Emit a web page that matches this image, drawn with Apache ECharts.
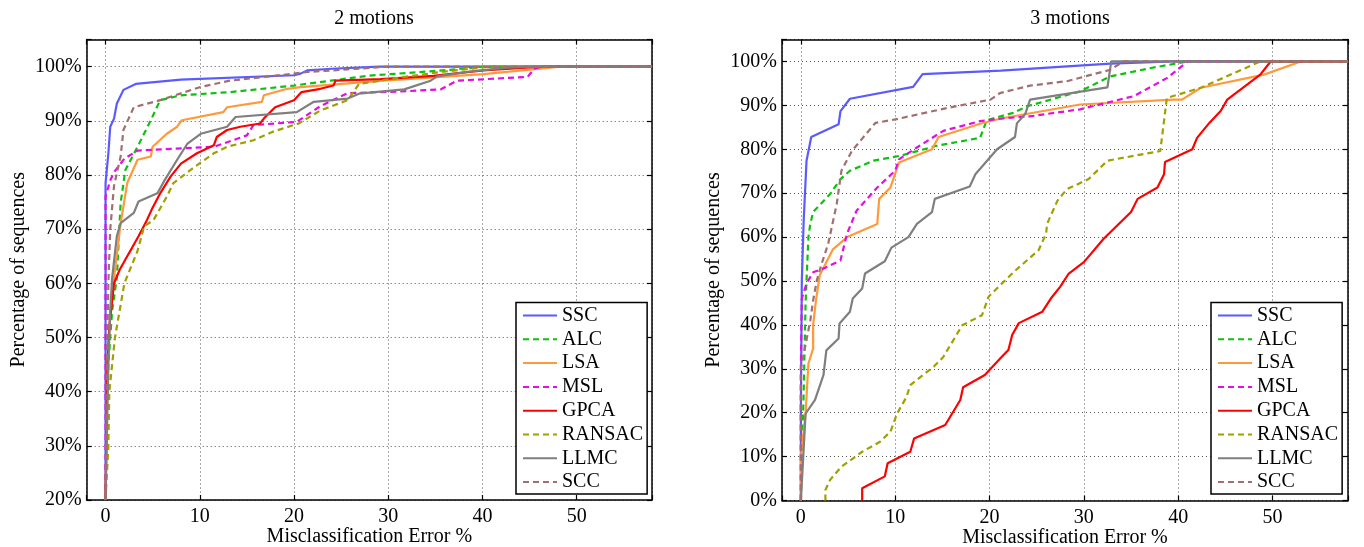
<!DOCTYPE html>
<html><head><meta charset="utf-8">
<script src="https://cdn.jsdelivr.net/npm/echarts@6/dist/echarts.min.js"></script>
<style>html,body{margin:0;padding:0;background:#fff}#c{width:1364px;height:547px}</style>
</head><body><div id="c"></div>
<script>
const methods = ['SSC','ALC','LSA','MSL','GPCA','RANSAC','LLMC','SCC'];
const titles = ['2 motions','3 motions'];
const xName = 'Misclassification Error %';
const yName = 'Percentage of sequences';

// ---- 2 motions: [error %, percentage of sequences] ----
const ssc2 = [[0,20],[0,78.5],[0.3,84],[0.5,88.9],[0.9,90.4],[1.2,93.2],[1.9,95.7],[3.2,96.8],[8,97.6],[20,98.4],[20.7,98.7],[21.4,99.3],[24,99.6],[29,100],[58,100]];
const alc2 = [[0,20],[0.3,45],[0.7,55],[1.2,61],[1.6,74.8],[2.1,80.9],[3.4,85.2],[4.8,90.1],[5.8,93.8],[8,94.7],[13.3,95.3],[20,96.5],[23.9,97.4],[27.8,98.3],[36.6,99.4],[40.4,100],[58,100]];
const lsa2 = [[0,20],[0.2,45],[0.5,55],[0.9,61],[1.6,71],[2.3,78.5],[3.4,82.8],[4.8,83.4],[5,85.2],[6.5,87.6],[7.6,88.9],[8.1,90.1],[12.5,91.6],[12.9,92.5],[16.6,93.5],[16.8,94.7],[19.3,95.9],[20.7,96.2],[29.5,97.4],[40.1,98.6],[48.3,100],[58,100]];
const msl2 = [[0,20],[0,76],[0.5,79],[0.9,80.5],[2,83],[3.4,84.5],[11.5,85.2],[15,87.3],[15.7,89.2],[20.3,89.8],[22.8,92.7],[25.7,95.1],[31.3,95.4],[35.6,95.8],[37.3,97.4],[44.8,98.1],[45.5,99.6],[46.2,100],[58,100]];
const gpca2 = [[0,20],[0.2,45],[0.4,52],[0.9,60],[1.5,62.5],[2.3,65],[2.8,66.5],[3.5,68.7],[4.4,71.7],[4.9,73.6],[5.8,76.6],[6.9,79.7],[8,82.1],[9.7,84],[11.5,85.5],[11.8,87],[12.9,88.3],[14.3,88.9],[16.4,89.5],[16.8,90.4],[18,92.5],[20,93.8],[20.8,95.3],[22.8,95.9],[24.2,96.5],[24.4,97.4],[29.2,97.7],[34.8,98.3],[40.1,99.3],[45.4,99.9],[47.5,100],[58,100]];
const ransac2 = [[0,20],[0.3,30],[0.4,40],[1,50],[2,60],[3.4,66],[4.1,70.5],[5.1,71.7],[6.5,76],[7.2,78.5],[9,80.9],[11.5,84],[12.9,85.2],[15.7,86.4],[17.8,88],[20.5,89.5],[22.8,91.9],[25.7,93.8],[26.9,96.8],[31.3,98],[35.6,99],[40.4,99.9],[42,100],[58,100]];
const llmc2 = [[0,20],[0.3,45],[0.5,55],[0.7,61],[1.2,68.7],[1.6,71.1],[3,73],[3.5,75.1],[5.5,76.6],[6.2,78.8],[7.6,82.8],[8.7,85.8],[10.1,87.6],[12.9,88.9],[13.8,90.7],[20.3,91.6],[22.1,93.5],[25.7,94.1],[26.9,95],[31.7,95.8],[34.5,97.4],[35.2,98.2],[38.3,99],[42.6,99.8],[45.4,100],[58,100]];
const scc2 = [[0,20],[0.1,40],[0.3,60],[0.5,70],[0.9,78],[1.6,83.4],[1.9,88.3],[3,92.5],[5.8,93.8],[10,96.2],[13.2,97.4],[20,98.7],[21.4,99],[25,99.4],[30,100],[58,100]];

// ---- 3 motions ----
const ssc3 = [[0,0],[0,20],[0.1,50],[0.3,63.8],[0.6,77.4],[1.1,82.8],[4,85.7],[4.2,88.7],[5.2,91.5],[11.9,94.2],[12.9,97.1],[21.2,97.9],[32.8,99.5],[39.5,100],[58,100]];
const alc3 = [[0,0],[0.3,25],[0.5,45],[0.6,50.2],[0.8,60],[1,63],[1.3,65.7],[3.1,69.8],[4.2,73.2],[5.2,75.1],[7.7,77.4],[10.5,78.5],[14.4,80.8],[19,82.6],[19.7,86.6],[22.5,88.3],[24,89.8],[29.6,93.2],[32.8,96.6],[37.1,98.5],[41,100],[58,100]];
const lsa3 = [[0,0],[0,10],[0.5,19.8],[0.8,31.2],[1.3,34.6],[1.3,40],[1.6,45.6],[2,51.3],[3.4,57.2],[4.9,60],[8.1,63],[8.3,68.7],[9.5,71.3],[10.4,77],[13.9,80],[14.6,82.8],[19,85.8],[21.2,87],[29.6,90.2],[39.5,91.3],[40.4,91.3],[42.4,94],[49.1,97],[53,100],[58,100]];
const msl3 = [[0,0],[0,30.5],[0.1,46],[0.6,49.4],[1.3,52],[2.6,53],[4.2,54.7],[4.9,60.8],[5.9,66],[8.1,71.3],[10,75.1],[10.4,77.7],[12.3,80.4],[15.1,84.2],[19,86.4],[21.2,87],[24.3,87.5],[29.6,89.1],[35.3,92.1],[38.8,96.2],[41,100],[58,100]];
const gpca3 = [[6.5,0],[6.5,2.8],[8.9,5.5],[9.2,8.5],[11.6,11.1],[12,14.1],[15.3,17.2],[16.9,22.9],[17.2,25.8],[19.5,28.6],[21.2,32.5],[22,34.3],[22.4,37.7],[23.1,40.4],[25.6,43],[26.5,46],[27.5,48.7],[28.4,51.7],[30,54.3],[32.1,59.6],[35,65.7],[35.7,68.7],[37.8,71.3],[38.5,74.3],[38.6,77.1],[41.5,80],[42,82.6],[43.3,86],[44.5,88.7],[45.2,91.3],[48.7,97],[49.8,100],[58,100]];
const ransac3 = [[2.6,0],[2.6,2.4],[3.1,4.7],[4.3,7.7],[6.5,11.1],[8.4,13.4],[9.5,15.7],[10.2,19.8],[11.2,23.6],[11.6,26.3],[14.1,30.5],[15.1,32.7],[17.1,39.9],[19.2,42.2],[19.9,46.4],[21.2,49.2],[22.8,52.5],[25.2,57],[26,60.8],[26.1,63],[27.2,68.3],[28.2,70.9],[30.5,73.2],[32.5,77.4],[38.1,79.6],[38.8,91.7],[42.4,94],[48.7,100],[58,100]];
const llmc3 = [[0,0],[0.5,19.8],[1.5,22.9],[2.4,28.6],[2.7,34.2],[4,36.9],[4.1,40.3],[5.2,43],[5.5,46],[6.5,48.3],[6.8,51.7],[8.9,54.5],[9.6,57.6],[11.4,60],[12.3,63],[13.9,65.7],[14.2,68.7],[17.9,71.5],[18.5,74.3],[20.8,80],[22.7,82.8],[22.9,85.9],[23.8,88.1],[24.3,91.3],[32.5,94.1],[32.9,100],[58,100]];
const scc3 = [[0,0],[0,30],[1,41],[1.3,45.6],[1.7,50.2],[2.2,53.9],[2.9,58.5],[3.8,67.5],[4.3,75.1],[5.4,79.6],[7.9,86],[10,86.8],[15.5,89.4],[20.1,91.3],[21.1,92.8],[24.3,94.5],[28.2,95.5],[32.8,98.1],[34.2,100],[58,100]];

const data2 = [ssc2, alc2, lsa2, msl2, gpca2, ransac2, llmc2, scc2];
const data3 = [ssc3, alc3, lsa3, msl3, gpca3, ransac3, llmc3, scc3];

const colors = ['#5A5AFF','#10C010','#FF9A3C','#E010E0','#FF0000','#A0A000','#7F7F7F','#A07070'];
const dashed = [false,true,false,true,false,true,false,true];

const FONT = 'Liberation Serif';
const grids = [
  {left: 86.7, right: 712, top: 39.5, bottom: 47, outerBoundsMode: 'none', containLabel: false},
  {left: 782, right: 16, top: 39.5, bottom: 46.5, outerBoundsMode: 'none', containLabel: false}
];
const yMins = [20, 0];

function xAxes(gi) {
  const common = {type: 'value', gridIndex: gi, min: -2, max: 58, minInterval: 10, maxInterval: 10,
    axisLine: {show: true, onZero: false, lineStyle: {color: '#000', width: 1.5}},
    axisTick: {show: true, inside: true, length: 5, lineStyle: {color: '#000', width: 1.2}}};
  return [
    Object.assign({}, common, {position: 'bottom',
      name: xName, nameLocation: 'middle', nameGap: 27, nameMoveOverlap: false,
      nameTextStyle: {fontFamily: FONT, fontSize: 20, color: '#000'},
      axisLabel: {show: true, margin: 7, fontFamily: FONT, fontSize: 20, color: '#000',
        formatter: v => (v % 10 === 0 && v >= 0 && v <= 50) ? String(v) : ''},
      splitLine: {show: true, lineStyle: {color: '#555', width: 1, type: [1, 3]}}}),
    Object.assign({}, common, {position: 'top', axisLabel: {show: false}, splitLine: {show: false}})
  ];
}
function yAxes(gi) {
  const common = {type: 'value', gridIndex: gi, min: yMins[gi], max: 105, minInterval: 10, maxInterval: 10,
    axisLine: {show: true, onZero: false, lineStyle: {color: '#000', width: 1.5}},
    axisTick: {show: true, inside: true, length: 5, lineStyle: {color: '#000', width: 1.2}}};
  return [
    Object.assign({}, common, {position: 'left',
      name: yName, nameLocation: 'middle', nameGap: 58, nameRotate: 90, nameMoveOverlap: false,
      nameTextStyle: {fontFamily: FONT, fontSize: 20, color: '#000'},
      axisLabel: {show: true, margin: 5, fontFamily: FONT, fontSize: 20, color: '#000',
        formatter: v => (v % 10 === 0 && v <= 100) ? v + '%' : ''},
      splitLine: {show: true, lineStyle: {color: '#555', width: 1, type: [1, 3]}}}),
    Object.assign({}, common, {position: 'right', axisLabel: {show: false}, splitLine: {show: false}})
  ];
}

const series = [];
[data2, data3].forEach((set, gi) => {
  set.forEach((d, i) => {
    series.push({
      name: methods[i], type: 'line', xAxisIndex: gi * 2, yAxisIndex: gi * 2,
      data: d, symbol: 'none', showSymbol: false, clip: true,
      lineStyle: {color: colors[i], width: 2.2, type: dashed[i] ? [6, 4] : 'solid'},
      itemStyle: {color: colors[i]},
      emphasis: {disabled: true}, silent: true
    });
  });
});

function legend(left) {
  return {
    orient: 'vertical', left: left, top: 302.5,
    padding: [3, 4, 2, 6], itemGap: 3.8, itemWidth: 34, itemHeight: 14,
    borderColor: '#000', borderWidth: 1.5, backgroundColor: '#fff', borderRadius: 0,
    textStyle: {fontFamily: FONT, fontSize: 20, color: '#000'},
    itemStyle: {opacity: 0},
    selectedMode: false, data: methods
  };
}

const chart = echarts.init(document.getElementById('c'), null, {renderer: 'canvas'});
chart.setOption({
  animation: false,
  backgroundColor: '#fff',
  title: [
    {text: titles[0], left: 369, top: 4, textAlign: 'center', textStyle: {fontFamily: FONT, fontSize: 20, fontWeight: 'normal', color: '#000'}},
    {text: titles[1], left: 1065, top: 4, textAlign: 'center', textStyle: {fontFamily: FONT, fontSize: 20, fontWeight: 'normal', color: '#000'}}
  ],
  grid: grids,
  xAxis: [...xAxes(0), ...xAxes(1)],
  yAxis: [...yAxes(0), ...yAxes(1)],
  legend: [legend(516), legend(1211)],
  series: series
});
</script>
</body></html>
